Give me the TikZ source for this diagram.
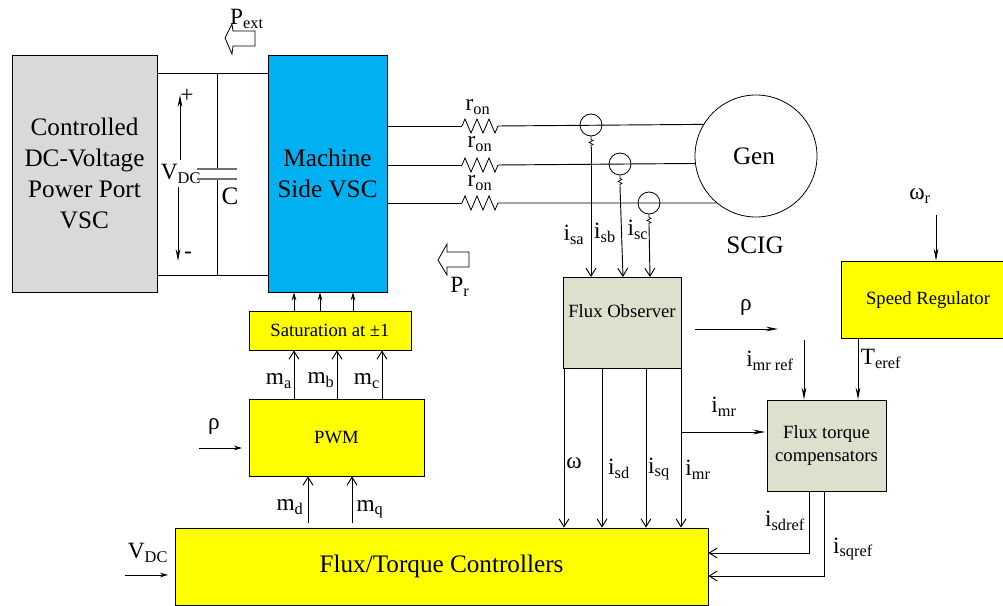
\documentclass[tikz,border=0pt]{standalone}
\usepackage{fontspec}
\setmainfont{Liberation Serif}
\usetikzlibrary{arrows.meta,shapes.geometric,positioning}
\definecolor{blockgray}{HTML}{D9D9D9}
\definecolor{vscblue}{HTML}{00B0F0}
\definecolor{obsgreen}{HTML}{DDE0CC}
\definecolor{blockyellow}{RGB}{255,255,0}
\definecolor{plategray}{HTML}{707070}
\newcommand{\sizeA}{\fontsize{18.9}{23.25}\selectfont}
\newcommand{\sizeB}{\fontsize{17.5}{20}\selectfont}
\newcommand{\sizeC}{\fontsize{14}{17}\selectfont}
\tikzset
{
    block/.style    = {rectangle, draw=black, align=center, inner sep=0pt, line width=0.6pt},
    yellowblock/.style = {block, fill=blockyellow},
    greenblock/.style  = {block, fill=obsgreen},
    wire/.style     = {draw=black, line width=0.7pt},
    openarrow/.style   = {wire, -{Straight Barb[length=6pt,width=7.5pt]}},
    fillarrow/.style   = {wire, -{Stealth[length=9pt,width=3.5pt]}},
    smallarrow/.style  = {wire, -{Stealth[length=6pt,width=3.5pt]}},
    tag/.style      = {inner sep=0pt, font=\sizeB},
    hollowarrow/.style = {draw=black, line width=0.6pt, fill=white},
    resistor/.style = {draw=black, line width=0.6pt},
    plate/.style    = {draw=plategray, line width=1pt},
    sensor/.style   = {circle, draw=black, line width=0.6pt, minimum size=16.5pt, inner sep=0pt}
}
\begin{document}
\begin{tikzpicture}[x=0.75pt, y=-0.75pt]
    \useasboundingbox (0,0) rectangle (1003,606);
    % blocks
    \node [block, fill=blockgray, minimum width=108.75pt, minimum height=177.75pt, font=\sizeA] (power) at (84.5,173.5) {Controlled \\ DC-Voltage \\ Power Port \\ VSC};
    \node [block, fill=vscblue, minimum width=89.25pt, minimum height=177.75pt, font=\sizeA] (msc) at (327.5,173.5) {Machine \\ Side VSC};
    \node [yellowblock, minimum width=121.5pt, minimum height=29.25pt, font=\sizeC] (sat) at (330,330.5) {Saturation at ±1};
    \node [yellowblock, minimum width=131.25pt, minimum height=57.75pt, font=\sizeC] (pwm) at (336.5,437.5) {PWM};
    \node [yellowblock, minimum width=399.75pt, minimum height=57.75pt, font=\sizeA] (ftc) at (441.5,566.5) {Flux/Torque Controllers};
    \node [greenblock, minimum width=88.5pt, minimum height=68.25pt] (obs) at (622,322.5) {};
    \node [font=\sizeC, inner sep=0pt] (obstext) at (622,311) {Flux Observer};
    \node [yellowblock, minimum width=121.5pt, minimum height=57.75pt] (spd) at (922,299.5) {};
    \node [font=\sizeC, inner sep=0pt] (spdtext) at (928,300) {Speed Regulator};
    \node [greenblock, minimum width=89.25pt, minimum height=68.25pt, font=\sizeC] (comp) at (826.5,445.5) {Flux torque \\ compensators};
    \node [circle, draw=black, line width=0.6pt, minimum size=91.5pt, inner sep=0pt] (gen) at (756,156) {};
    \node [font=\sizeA, inner sep=0pt] (gentext) at (754,156) {Gen};
    \node [font=\sizeA, inner sep=0pt] (scig) at (755,245) {SCIG};

    % dc link
    \coordinate (dctop) at (217,73);
    \coordinate (dcbot) at (217,275);
    \coordinate (capa) at (217,169);
    \coordinate (capb) at (217,179);
    \draw [wire] (power.east |- dctop) -- (msc.west |- dctop);
    \draw [wire] (power.east |- dcbot) -- (msc.west |- dcbot);
    \draw [wire] (dctop) -- (capa);
    \draw [wire] (capb) -- (dcbot);
    \draw [plate] ([xshift=-14.9pt]capa) -- ([xshift=14.9pt]capa);
    \draw [plate] ([xshift=-14.9pt]capb) -- ([xshift=14.9pt]capb);
    \node [tag, font=\sizeA] (clabel) at (230,196) {C};
    \coordinate (vup) at (180,160);
    \coordinate (vuptip) at (180,95);
    \coordinate (vdown) at (178,187);
    \coordinate (vdowntip) at (178,261);
    \draw [fillarrow] (vup) -- (vuptip);
    \draw [fillarrow] (vdown) -- (vdowntip);
    \node [tag] (vplus) at (187,96) {+};
    \node [tag] (vminus) at (188,255) {-};
    \node [tag] (vdc) at (181,174) {V\textsubscript{DC}};

    % power arrows
    \draw [hollowarrow] (255,31) -- (233,31) -- (232,24) -- (225,38) -- (232,54) -- (233,46) -- (255,46) -- cycle;
    \draw [hollowarrow] (469,252) -- (447,252) -- (447,244) -- (438,260) -- (447,275) -- (447,267) -- (469,267) -- cycle;
    \node [tag] (pext) at (247,19) {P\textsubscript{ext}};
    \node [tag] (pr) at (460,287) {P\textsubscript{r}};

    % phase lines
    \coordinate (resaL) at (462,126);
    \coordinate (resaR) at (498,126);
    \coordinate (resbL) at (462,165);
    \coordinate (resbR) at (498,165);
    \coordinate (rescL) at (462,203);
    \coordinate (rescR) at (498,203);
    \draw [wire] (msc.east |- resaL) -- (resaL);
    \draw [wire] (msc.east |- resbL) -- (resbL);
    \draw [wire] (msc.east |- rescL) -- (rescL);
    \draw [resistor] (resaL) -- ++(3,-7) -- ++(6,14) -- ++(6,-14) -- ++(6,14) -- ++(6,-14) -- ++(6,14) -- (resaR);
    \draw [resistor] (resbL) -- ++(3,-7) -- ++(6,14) -- ++(6,-14) -- ++(6,14) -- ++(6,-14) -- ++(6,14) -- (resbR);
    \draw [resistor] (rescL) -- ++(3,-7) -- ++(6,14) -- ++(6,-14) -- ++(6,14) -- ++(6,-14) -- ++(6,14) -- (rescR);
    \draw [wire] (resaR) -- (gen.149.5);
    \draw [wire] (resbR) -- (gen.187.5);
    \draw [wire] (rescR) -- (gen.230);
    \node [sensor] (sensa) at (591,125) {};
    \node [sensor] (sensb) at (620,164) {};
    \node [sensor] (sensc) at (649,203) {};
    \node [tag] (rona) at (478,107) {r\textsubscript{on}};
    \node [tag] (ronb) at (480,144) {r\textsubscript{on}};
    \node [tag] (ronc) at (480,183) {r\textsubscript{on}};

    % current sensing
    \coordinate (obsa) at (591,277);
    \coordinate (obsb) at (623,277);
    \coordinate (obsc) at (650,277);
    \draw [wire, line width=0.5pt] (sensa.south) -- ++(0,3) -- ++(2,1) -- ++(-4,2) -- ++(4,2) -- ++(-2,1) -- ++(0,2) coordinate (leada);
    \draw [wire, line width=0.5pt] (sensb.south) -- ++(0,3) -- ++(2,1) -- ++(-4,2) -- ++(4,2) -- ++(-2,1) -- ++(0,2) coordinate (leadb);
    \draw [wire, line width=0.5pt] (sensc.south) -- ++(0,3) -- ++(2,1) -- ++(-4,2) -- ++(4,2) -- ++(-2,1) -- ++(0,2) coordinate (leadc);
    \draw [openarrow] (leada) -- (obsa);
    \draw [openarrow] (leadb) -- (obsb);
    \draw [openarrow] (leadc) -- (obsc);
    \node [tag] (isa) at (574,235) {i\textsubscript{sa}};
    \node [tag] (isb) at (605,233) {i\textsubscript{sb}};
    \node [tag] (isc) at (638,230) {i\textsubscript{sc}};

    % modulation
    \draw [smallarrow] (sat.north -| 294,0) -- (msc.south -| 294,0);
    \draw [smallarrow] (sat.north -| 320,0) -- (msc.south -| 320,0);
    \draw [smallarrow] (sat.north -| 353,0) -- (msc.south -| 353,0);
    \draw [openarrow] (pwm.north -| 294,0) -- (sat.south -| 294,0);
    \draw [openarrow] (pwm.north -| 337,0) -- (sat.south -| 337,0);
    \draw [openarrow] (pwm.north -| 382,0) -- (sat.south -| 382,0);
    \coordinate (mdfoot) at (308,523);
    \coordinate (mqfoot) at (352,523);
    \draw [openarrow] (mdfoot) -- (pwm.south -| mdfoot);
    \draw [openarrow] (mqfoot) -- (pwm.south -| mqfoot);
    \node [tag] (ma) at (279,381) {m\textsubscript{a}};
    \node [tag] (mb) at (321,380) {m\textsubscript{b}};
    \node [tag] (mc) at (367,381) {m\textsubscript{c}};
    \node [tag] (md) at (290,507) {m\textsubscript{d}};
    \node [tag] (mq) at (370,509) {m\textsubscript{q}};
    \coordinate (rhofoot) at (199,448);
    \coordinate (vdcfoot) at (125,575);
    \draw [smallarrow] (rhofoot) -- ([xshift=-5pt]pwm.west |- rhofoot);
    \draw [smallarrow] (vdcfoot) -- ([xshift=-5pt]ftc.west |- vdcfoot);
    \node [tag] (rholeft) at (214,427) {ρ};
    \node [tag] (vdcleft) at (148,553) {V\textsubscript{DC}};

    % observer outputs
    \draw [openarrow] (obs.south -| 564,0) -- (ftc.north -| 564,0);
    \draw [openarrow] (obs.south -| 602,0) -- (ftc.north -| 602,0);
    \draw [openarrow] (obs.south -| 646,0) -- (ftc.north -| 646,0);
    \draw [openarrow] (obs.south -| 681,0) -- (ftc.north -| 681,0);
    \coordinate (imrjoin) at (682,432);
    \draw [fillarrow] (imrjoin) -- ([xshift=-1pt]comp.west |- imrjoin);
    \node [tag] (omegas) at (574,463) {ω};
    \node [tag] (isd) at (619,469) {i\textsubscript{sd}};
    \node [tag] (isq) at (659,469) {i\textsubscript{sq}};
    \node [tag] (imra) at (698,470) {i\textsubscript{mr}};
    \node [tag] (imrb) at (724,407) {i\textsubscript{mr}};
    \coordinate (rhoa) at (695,329);
    \coordinate (rhob) at (778,329);
    \draw [fillarrow] (rhoa) -- (rhob);
    \node [tag] (rhoright) at (746,308) {ρ};

    % references
    \coordinate (wrfoot) at (936,215);
    \coordinate (imrfoot) at (804,340);
    \draw [fillarrow] (wrfoot) -- (spd.north -| wrfoot);
    \draw [fillarrow] (imrfoot) -- (comp.north -| imrfoot);
    \draw [fillarrow] (spd.south -| 858,0) -- (comp.north -| 858,0);
    \node [tag] (omegar) at (920,196) {ω\textsubscript{r}};
    \node [tag] (imrref) at (770,361) {i\textsubscript{mr ref}};
    \node [tag] (teref) at (881,359) {T\textsubscript{eref}};

    % compensator outputs
    \coordinate (sdbend) at (809,553);
    \coordinate (sqbend) at (824,576);
    \draw [openarrow] (comp.south -| sdbend) -- (sdbend) -- (ftc.east |- sdbend);
    \draw [openarrow] (comp.south -| sqbend) -- (sqbend) -- (ftc.east |- sqbend);
    \node [tag] (isdref) at (785,521) {i\textsubscript{sdref}};
    \node [tag] (isqref) at (853,549) {i\textsubscript{sqref}};
\end{tikzpicture}
\end{document}
